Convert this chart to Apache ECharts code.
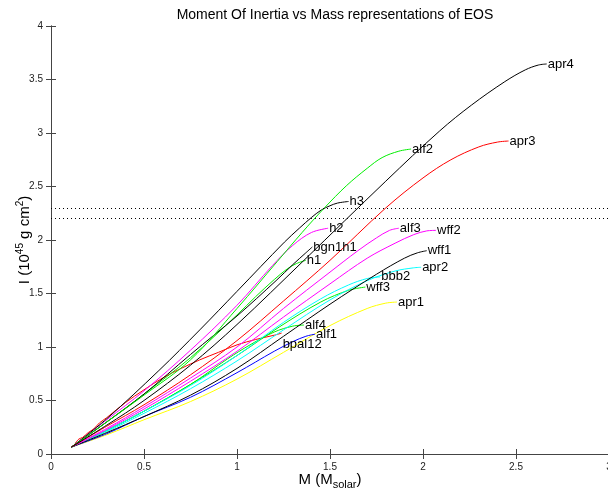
<!DOCTYPE html>
<html lang="en">
<head>
<meta charset="UTF-8">
<title>Moment Of Inertia vs Mass</title>
<script src="https://cdn.jsdelivr.net/npm/echarts@6/dist/echarts.min.js"></script>
<style>
    html, body { margin: 0; padding: 0; background: #fff; }
    #main { width: 608px; height: 490px; }
</style>
</head>
<body>
<div id="main"></div>
<script type="text/javascript">
    // tick values
    var xTicks = [0, 0.5, 1, 1.5, 2, 2.5, 3];
    var yTicks = [0, 0.5, 1, 1.5, 2, 2.5, 3, 3.5, 4];
    // dotted reference levels
    var refLevels = [2.3, 2.2];

    // EOS curves, [M (Msolar), I (1e45 g cm^2)]
    var apr4 = [[0.11,0.065],[0.3,0.27],[0.5,0.5],[0.75,0.83],[1.0,1.21],[1.36,1.81],[1.8,2.55],[2.09,3.02],[2.26,3.26],[2.44,3.48],[2.55,3.59],[2.62,3.635],[2.665,3.645]];
    var apr3 = [[0.11,0.065],[0.3,0.26],[0.5,0.46],[0.75,0.74],[1.0,1.06],[1.25,1.43],[1.5,1.81],[1.8,2.3],[2.0,2.58],[2.15,2.75],[2.3,2.87],[2.4,2.915],[2.46,2.925]];
    var alf2 = [[0.11,0.065],[0.3,0.3],[0.5,0.55],[0.75,0.88],[1.0,1.36],[1.217,1.8],[1.35,2.07],[1.47,2.3],[1.59,2.51],[1.7,2.67],[1.78,2.77],[1.87,2.83],[1.936,2.85]];
    var h3 = [[0.11,0.065],[0.3,0.33],[0.58,0.78],[0.8,1.16],[1.0,1.52],[1.255,1.98],[1.335,2.11],[1.4,2.21],[1.453,2.28],[1.5,2.32],[1.54,2.345],[1.6,2.36]];
    var h2 = [[0.11,0.065],[0.3,0.32],[0.5,0.59],[0.75,0.97],[1.0,1.39],[1.19,1.76],[1.3,1.95],[1.4,2.07],[1.49,2.11]];
    var bgn1h1 = [[0.11,0.065],[0.3,0.3],[0.5,0.56],[0.75,0.93],[1.0,1.29],[1.21,1.62],[1.3,1.77],[1.37,1.88],[1.405,1.935]];
    var h1 = [[0.11,0.065],[0.3,0.3],[0.5,0.56],[0.75,0.9],[1.0,1.3],[1.1,1.47],[1.2,1.63],[1.27,1.73],[1.32,1.78],[1.37,1.81]];
    var alf3 = [[0.11,0.065],[0.3,0.24],[0.5,0.44],[0.75,0.71],[1.0,1.0],[1.25,1.36],[1.5,1.7],[1.65,1.9],[1.75,2.02],[1.82,2.09],[1.87,2.11]];
    var wff2 = [[0.11,0.065],[0.3,0.23],[0.5,0.42],[0.75,0.68],[1.0,0.96],[1.25,1.28],[1.5,1.59],[1.7,1.83],[1.85,1.97],[1.95,2.05],[2.02,2.085],[2.07,2.09]];
    var wff1 = [[0.11,0.065],[0.3,0.2],[0.5,0.35],[0.75,0.55],[1.0,0.8],[1.25,1.1],[1.5,1.4],[1.75,1.68],[1.9,1.83],[1.97,1.88],[2.02,1.9]];
    var apr2 = [[0.11,0.065],[0.3,0.21],[0.5,0.38],[0.75,0.61],[1.0,0.87],[1.25,1.16],[1.5,1.44],[1.7,1.62],[1.85,1.71],[1.95,1.74],[1.99,1.745]];
    var bbb2 = [[0.11,0.065],[0.3,0.22],[0.5,0.4],[0.75,0.64],[1.0,0.92],[1.25,1.23],[1.45,1.45],[1.6,1.58],[1.7,1.64],[1.77,1.655]];
    var wff3 = [[0.11,0.065],[0.3,0.22],[0.5,0.4],[0.75,0.65],[1.0,0.92],[1.23,1.19],[1.45,1.42],[1.6,1.53],[1.69,1.56]];
    var apr1 = [[0.11,0.065],[0.3,0.18],[0.5,0.32],[0.75,0.49],[1.0,0.7],[1.25,0.95],[1.5,1.2],[1.7,1.36],[1.8,1.41],[1.86,1.42]];
    var alf4 = [[0.11,0.065],[0.3,0.22],[0.5,0.4],[0.75,0.65],[0.95,0.89],[1.07,1.02],[1.2,1.14],[1.3,1.195],[1.36,1.205]];
    var alf1 = [[0.11,0.065],[0.3,0.19],[0.5,0.35],[0.75,0.53],[1.0,0.76],[1.2,0.96],[1.3,1.05],[1.37,1.1],[1.42,1.12]];
    var bpal12 = [[0.13,0.10],[0.15,0.14],[0.17,0.155],[0.2,0.2],[0.23,0.235],[0.26,0.29],[0.3,0.34],[0.4,0.48],[0.5,0.6],[0.6,0.71],[0.7,0.8],[0.8,0.88],[0.9,0.95],[1.0,1.02],[1.1,1.07],[1.2,1.11],[1.24,1.13]];

    var curves = [
        {name:'bpal12', data:bpal12, color:'#ff0000', off:[0, 11]},
        {name:'apr1', data:apr1, color:'#ffff00'},
        {name:'alf1', data:alf1, color:'#0000ff'},
        {name:'alf4', data:alf4, color:'#00ee00'},
        {name:'wff3', data:wff3, color:'#00ee00'},
        {name:'bbb2', data:bbb2, color:'#00ffff'},
        {name:'apr2', data:apr2, color:'#00ffff'},
        {name:'wff1', data:wff1, color:'#000000'},
        {name:'wff2', data:wff2, color:'#ff00ff'},
        {name:'alf3', data:alf3, color:'#ff00ff'},
        {name:'h1', data:h1, color:'#00ee00'},
        {name:'bgn1h1', data:bgn1h1, color:'#000000'},
        {name:'h2', data:h2, color:'#ff00ff'},
        {name:'h3', data:h3, color:'#000000'},
        {name:'alf2', data:alf2, color:'#00ee00'},
        {name:'apr3', data:apr3, color:'#ff0000'},
        {name:'apr4', data:apr4, color:'#000000'}
    ];

    var myChart = echarts.init(document.getElementById('main'));
    var font = 'Liberation Sans, Arial, sans-serif';

    var series = [];
    curves.forEach(function (c) {
        series.push({
            name: c.name,
            type: 'line',
            data: c.data,
            showSymbol: false,
            smooth: 0.35,
            lineStyle: {color: c.color, width: 1},
            itemStyle: {color: c.color},
            endLabel: {
                show: true,
                formatter: c.name,
                color: '#000',
                fontFamily: font,
                fontSize: 13,
                distance: 1,
                offset: c.off || [0, 0]
            }
        });
    });
    // dotted lines
    series.push({
        type: 'line',
        data: [],
        markLine: {
            silent: true,
            symbol: ['none', 'none'],
            label: {show: false},
            lineStyle: {color: '#000', type: [1, 3], width: 1},
            data: refLevels.map(function (v) { return {yAxis: v}; })
        }
    });

    var tickStyle = {inside: true, length: 5, lineStyle: {color: '#444'}};
    var lineStyle = {lineStyle: {color: '#444', width: 1}};
    var labelStyle = {color: '#222', fontSize: 10, fontFamily: font};

    var option = {
        animation: false,
        title: {
            text: 'Moment Of Inertia vs Mass representations of EOS',
            left: 330, top: 3, textAlign: 'center',
            textStyle: {fontSize: 14, fontWeight: 'normal', color: '#000', fontFamily: font}
        },
        grid: {left: 51, top: 26, width: 558, height: 428, containLabel: false, outerBoundsMode: 'none'},
        xAxis: [{
            type: 'value', min: 0, max: 3, interval: 0.5, position: 'bottom',
            axisLine: lineStyle, axisTick: tickStyle, splitLine: {show: false},
            axisLabel: labelStyle,
            name: '{n|M (M}{sub|solar}{n|)}', nameLocation: 'middle', nameGap: 15, nameMoveOverlap: false,
            nameTextStyle: {
                rich: {
                    n: {fontSize: 15, fontFamily: font, color: '#000'},
                    sub: {fontSize: 11, fontFamily: font, color: '#000', padding: [10, 0, 0, 0]}
                }
            }
        }, {
            type: 'value', min: 0, max: 3, interval: 0.5, position: 'top',
            axisLine: lineStyle, axisTick: tickStyle, splitLine: {show: false},
            axisLabel: {show: false}
        }],
        yAxis: [{
            type: 'value', min: 0, max: 4, interval: 0.5, position: 'left',
            axisLine: lineStyle, axisTick: tickStyle, splitLine: {show: false},
            axisLabel: labelStyle,
            name: '{n|I (10}{sup|45}{n| g cm}{sup|2}{n|)}', nameLocation: 'middle', nameGap: 16, nameRotate: 90,
            nameMoveOverlap: false,
            nameTextStyle: {
                rich: {
                    n: {fontSize: 15, fontFamily: font, color: '#000'},
                    sup: {fontSize: 10, fontFamily: font, color: '#000', padding: [0, 0, 10, 0]}
                }
            }
        }, {
            type: 'value', min: 0, max: 4, interval: 0.5, position: 'right',
            axisLine: lineStyle, axisTick: tickStyle, splitLine: {show: false},
            axisLabel: {show: false}
        }],
        series: series
    };
    myChart.setOption(option);
</script>
</body>
</html>
